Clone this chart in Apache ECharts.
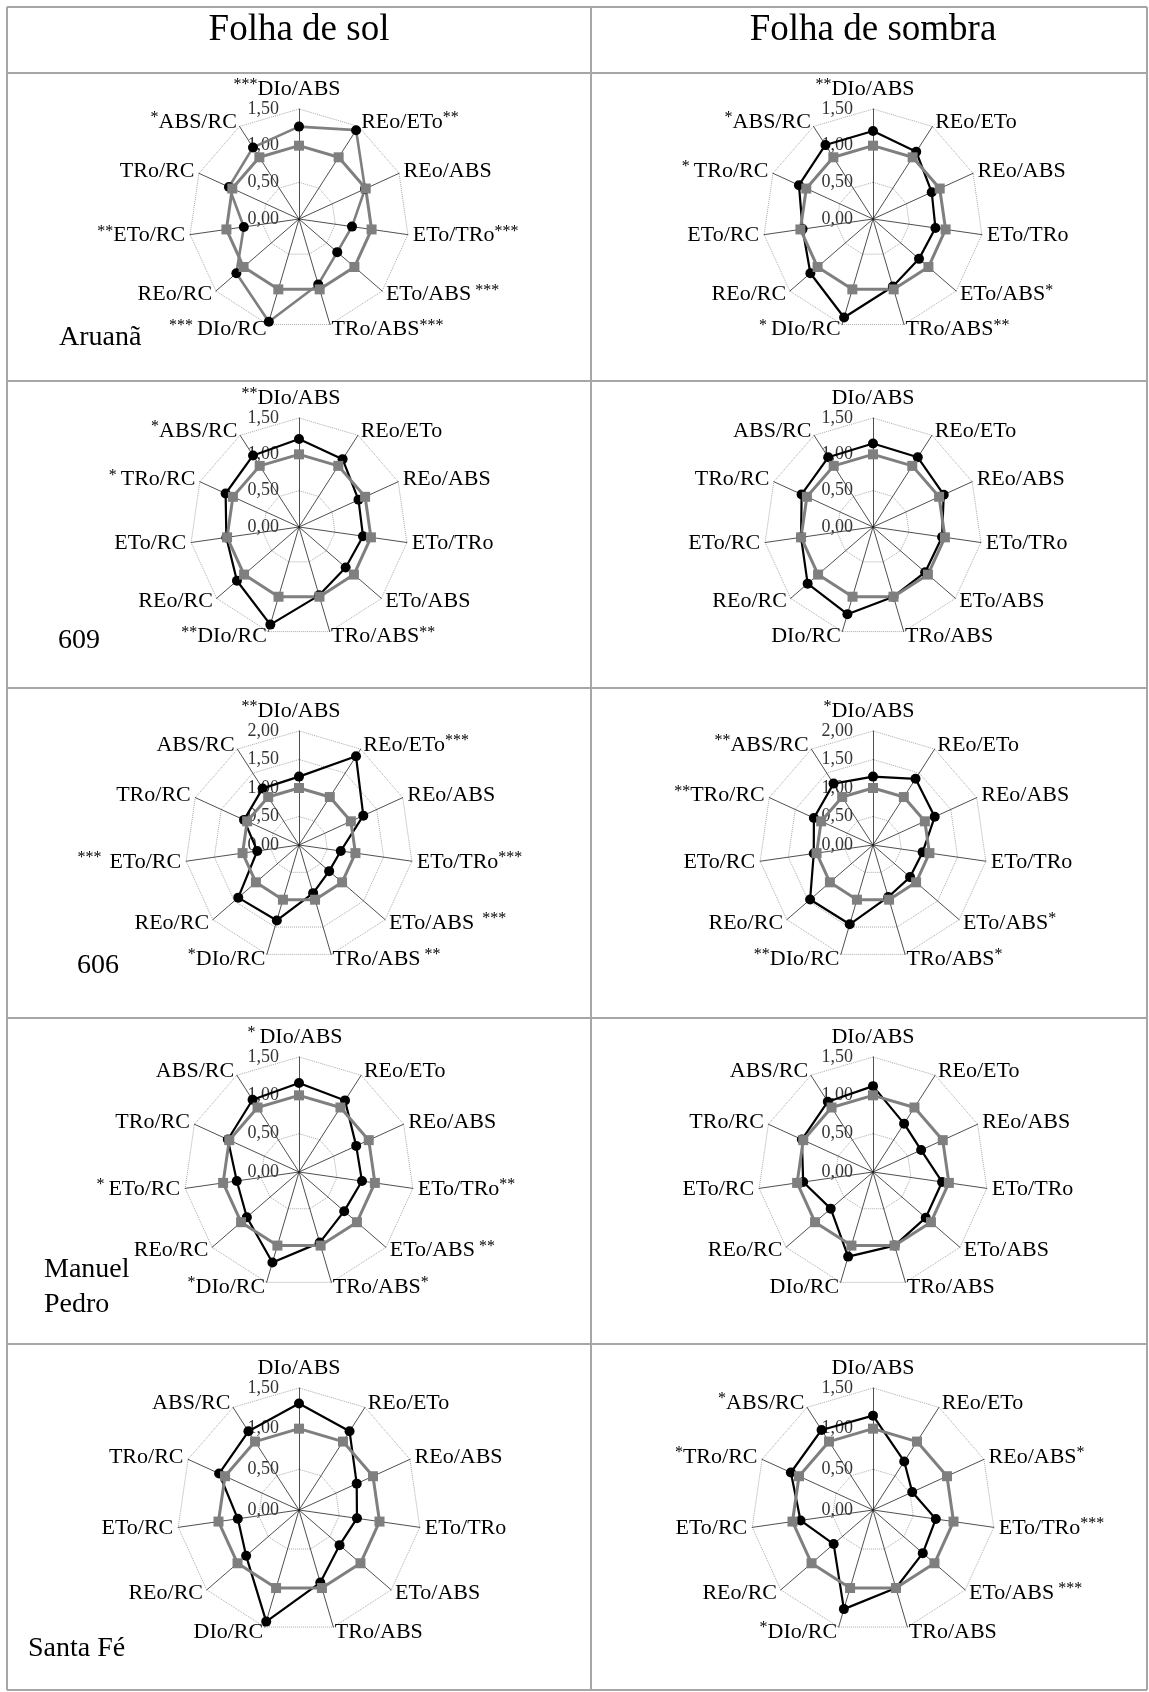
<!DOCTYPE html>
<html><head><meta charset="utf-8">
<script src="https://cdn.jsdelivr.net/npm/echarts@6/dist/echarts.min.js"></script>
<style>html,body{margin:0;padding:0;background:#fff}#c{width:1149px;height:1692px}</style>
</head><body><div id="c"></div>
<script>
// ---- axes (clockwise from top) ----
const axisNames = ['DIo/ABS','REo/ETo','REo/ABS','ETo/TRo','ETo/ABS','TRo/ABS','DIo/RC','REo/RC','ETo/RC','TRo/RC','ABS/RC'];
const colLabels = ['Folha de sol','Folha de sombra'];
const rowLabels = ['Aruanã','609','606','Manuel\nPedro','Santa Fé'];
const rowAxisMax = [1.5, 1.5, 2.0, 1.5, 1.5];
const control = [1,1,1,1,1,1,1,1,1,1,1];

// ---- treatment values (relative to control) ----
const aruanaSol     = [1.26,1.44,0.99,0.73,0.69,0.93,1.46,1.13,0.76,1.05,1.16];
const aruanaSombra  = [1.20,1.09,0.88,0.86,0.83,0.96,1.40,1.13,0.97,1.11,1.20];
const c609Sol       = [1.21,1.11,0.90,0.89,0.85,0.98,1.40,1.13,1.01,1.11,1.17];
const c609Sombra    = [1.15,1.14,1.07,0.96,0.95,1.00,1.25,1.19,1.00,1.08,1.14];
const c606Sol       = [1.20,1.85,1.24,0.74,0.70,0.88,1.38,1.41,0.74,1.06,1.18];
const c606Sombra    = [1.20,1.38,1.19,0.88,0.86,0.95,1.45,1.46,1.05,1.14,1.28];
const mpSol         = [1.16,1.11,0.82,0.83,0.78,0.96,1.23,0.90,0.82,1.02,1.12];
const mpSombra      = [1.12,0.75,0.69,0.91,0.91,1.00,1.15,0.73,0.92,1.02,1.09];
const sfSol         = [1.31,1.15,0.78,0.72,0.66,0.93,1.43,0.86,0.76,1.08,1.15];
const sfSombra      = [1.16,0.71,0.53,0.78,0.81,1.00,1.27,0.64,0.90,1.11,1.17];

// ---- significance marks per axis ----
const aruanaSolSig    = ['***','**','','***',' ***','***','*** ','','**','','*'];
const aruanaSombraSig = ['**','','','','*','**','* ','','','* ','*'];
const c609SolSig      = ['**','','','','','**','**','','','* ','*'];
const c609SombraSig   = ['','','','','','','','','','',''];
const c606SolSig      = ['**','***','','***','  ***',' **','*','','***  ','',''];
const c606SombraSig   = ['*','','','','*','*','**','','','**','**'];
const mpSolSig        = ['* ','','','**',' **','*','*','','* ','',''];
const mpSombraSig     = ['','','','','','','','','','',''];
const sfSolSig        = ['','','','','','','','','','',''];
const sfSombraSig     = ['','','*','***',' ***','','*','','','*','*'];

const panels = [
  [aruanaSol, aruanaSolSig], [aruanaSombra, aruanaSombraSig],
  [c609Sol, c609SolSig], [c609Sombra, c609SombraSig],
  [c606Sol, c606SolSig], [c606Sombra, c606SombraSig],
  [mpSol, mpSolSig], [mpSombra, mpSombraSig],
  [sfSol, sfSolSig], [sfSombra, sfSombraSig]
];

// ---- layout ----
const colX = [299, 873];
const rowY = [219, 527, 845, 1172, 1510];
const rowR = [110, 109, 114, 115, 122];
const hLines = [7, 73, 381, 688, 1018, 1344, 1690];
const vLines = [7, 591, 1147];
const rowLabelPos = [[59, 320], [58, 623], [77, 948], [44, 1252], [28, 1631]];

const SERIF = 'Liberation Serif';
const GRAY = '#7f7f7f';
// ECharts lays indicators counter-clockwise; reorder so they read clockwise
const order = [0,10,9,8,7,6,5,4,3,2,1];
const preAxes = [0,6,7,8,9,10];

const radars = [], series = [], titles = [], graphics = [];

panels.forEach(([vals, sig], p) => {
  const row = Math.floor(p / 2), col = p % 2;
  const max = rowAxisMax[row];
  const indicator = order.map((k, j) => {
    const pre = preAxes.includes(k);
    const top = k === 0 ? 'T' : '';
    const ind = { name: (pre ? sig[k] : '') + '|' + axisNames[k] + '|' + (pre ? '' : sig[k]) + '|' + top, min: 0, max: max };
    if (j === 0) {
      ind.axisLabel = {
        show: true, margin: 20, fontSize: 18, color: '#333', fontFamily: SERIF,
        formatter: v => Number(v).toFixed(2).replace('.', ',')
      };
    }
    return ind;
  });
  radars.push({
    center: [colX[col], rowY[row]],
    radius: rowR[row],
    startAngle: 90,
    splitNumber: max === 2 ? 4 : 3,
    shape: 'polygon',
    nameGap: 5,
    indicator: indicator,
    axisName: {
      color: '#000', fontFamily: SERIF, fontSize: 22,
      formatter: (name) => {
        const parts = String(name).split('|');
        const preMark = parts[0].trim();
        let out = '';
        if (preMark) out += '{s|' + parts[0] + '}';
        // the top label keeps its main text centred on the axis, marks hang to the left
        const nStyle = (parts[3] === 'T' && preMark) ? 'n' + preMark.length : 'n';
        out += '{' + nStyle + '|' + parts[1] + '}';
        if (parts[2] && parts[2].trim()) out += '{s|' + parts[2] + '}';
        return out;
      },
      rich: {
        n: { fontFamily: SERIF, fontSize: 22, color: '#000', lineHeight: 24 },
        n1: { fontFamily: SERIF, fontSize: 22, color: '#000', lineHeight: 24, padding: [0, 8, 0, 0] },
        n2: { fontFamily: SERIF, fontSize: 22, color: '#000', lineHeight: 24, padding: [0, 16, 0, 0] },
        n3: { fontFamily: SERIF, fontSize: 22, color: '#000', lineHeight: 24, padding: [0, 24, 0, 0] },
        s: { fontFamily: SERIF, fontSize: 16, color: '#000', lineHeight: 13, verticalAlign: 'top' }
      }
    },
    axisLine: { lineStyle: { color: '#222', width: 0.8 } },
    axisTick: { show: false },
    axisLabel: { show: false },
    splitLine: { lineStyle: { color: '#aaa', type: 'dotted', width: 1 } },
    splitArea: { show: false }
  });
  const treatLine = p === 0 ? GRAY : '#000';
  series.push({
    type: 'radar',
    radarIndex: p,
    silent: true,
    data: [
      {
        value: order.map(k => vals[k]),
        symbol: 'circle', symbolSize: 10,
        itemStyle: { color: '#000' },
        lineStyle: { color: treatLine, width: p === 0 ? 2.6 : 2.2 }
      },
      {
        value: order.map(k => control[k]),
        symbol: 'rect', symbolSize: 10,
        itemStyle: { color: GRAY },
        lineStyle: { color: GRAY, width: 3 }
      }
    ]
  });
});

colLabels.forEach((t, i) => {
  titles.push({
    text: t, left: colX[i], top: 10, textAlign: 'center', padding: 0,
    textStyle: { fontFamily: SERIF, fontSize: 37, fontWeight: 'normal', color: '#000', lineHeight: 40 }
  });
});
rowLabels.forEach((t, i) => {
  titles.push({
    text: t, left: rowLabelPos[i][0], top: rowLabelPos[i][1], padding: 0,
    textStyle: { fontFamily: SERIF, fontSize: 28, fontWeight: 'normal', color: '#000', lineHeight: 35 }
  });
});

hLines.forEach(y => graphics.push({
  type: 'line', shape: { x1: vLines[0], y1: y, x2: vLines[2], y2: y },
  style: { stroke: '#a6a6a6', lineWidth: 2 }, silent: true
}));
vLines.forEach(x => graphics.push({
  type: 'line', shape: { x1: x, y1: hLines[0], x2: x, y2: hLines[hLines.length - 1] },
  style: { stroke: '#a6a6a6', lineWidth: 2 }, silent: true
}));

const chart = echarts.init(document.getElementById('c'), null, { renderer: 'canvas' });
chart.setOption({
  backgroundColor: '#fff',
  animation: false,
  title: titles,
  radar: radars,
  series: series,
  graphic: graphics
});
</script></body></html>
